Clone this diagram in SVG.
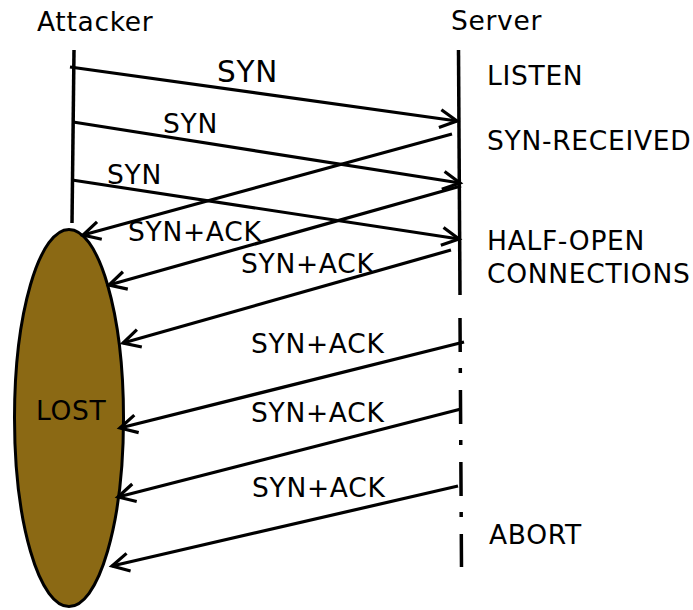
<svg xmlns="http://www.w3.org/2000/svg" width="693" height="610" viewBox="0 0 693 610">
  <style>
    text { font-family: "DejaVu Sans", "Liberation Sans", sans-serif; font-size: 26.5px; letter-spacing: 0.7px; fill: #000; }
    .big { font-size: 29.5px; letter-spacing: 0.8px; }
    .line { stroke: #000; stroke-width: 3.5; fill: none; stroke-linecap: butt; }
    .msg { stroke: #000; stroke-width: 3.2; fill: none; marker-end: url(#open); }
  </style>
  <defs>
    <marker id="open" markerUnits="userSpaceOnUse" markerWidth="24" markerHeight="24" refX="0" refY="0" viewBox="-20 -12 24 24" orient="auto" overflow="visible">
      <path d="M-17,-9 L0,0 L-17,9" fill="none" stroke="#000" stroke-width="3.2"/>
    </marker>
  </defs>

  <!-- lifelines -->
  <g id="attacker">
    <text x="37" y="31">Attacker</text>
    <line class="line" x1="74" y1="50" x2="72" y2="223"/>
  </g>
  <g id="server">
    <text x="451" y="30">Server</text>
    <line class="line" x1="458.5" y1="50" x2="460" y2="295"/>
    <line class="line" x1="460" y1="318" x2="461.5" y2="567" stroke-dasharray="34 16 5 17"/>
  </g>

  <g id="lost">
    <ellipse cx="69" cy="418" rx="54.5" ry="188.5" fill="#8b6914" stroke="#000" stroke-width="3"/>
    <text x="36" y="420">LOST</text>
  </g>

  <!-- server states -->
  <g id="states">
    <text x="487" y="85">LISTEN</text>
    <text x="487" y="150">SYN-RECEIVED</text>
    <text x="487" y="250">HALF-OPEN</text>
    <text x="487" y="283">CONNECTIONS</text>
    <text x="489" y="544">ABORT</text>
  </g>

  <!-- messages -->
  <g id="connectors">
    <line class="msg" x1="70" y1="67" x2="457" y2="121"/>
    <line class="msg" x1="73" y1="122" x2="460" y2="183"/>
    <line class="msg" x1="72" y1="180" x2="459" y2="239"/>

    <line class="msg" x1="452" y1="134" x2="83" y2="235"/>
    <line class="msg" x1="461" y1="186" x2="109" y2="285"/>
    <line class="msg" x1="451" y1="250" x2="123" y2="343"/>
    <line class="msg" x1="464" y1="342" x2="120" y2="428"/>
    <line class="msg" x1="461" y1="409" x2="118" y2="497"/>
    <line class="msg" x1="458" y1="486" x2="112" y2="566"/>
  </g>

  <g id="labels">
    <text class="big" x="217" y="82">SYN</text>
    <text x="163" y="133">SYN</text>
    <text x="107" y="184">SYN</text>
    <text x="128" y="241">SYN+ACK</text>
    <text x="241" y="273">SYN+ACK</text>
    <text x="251" y="353">SYN+ACK</text>
    <text x="251" y="422">SYN+ACK</text>
    <text x="252" y="497">SYN+ACK</text>
  </g>
</svg>
